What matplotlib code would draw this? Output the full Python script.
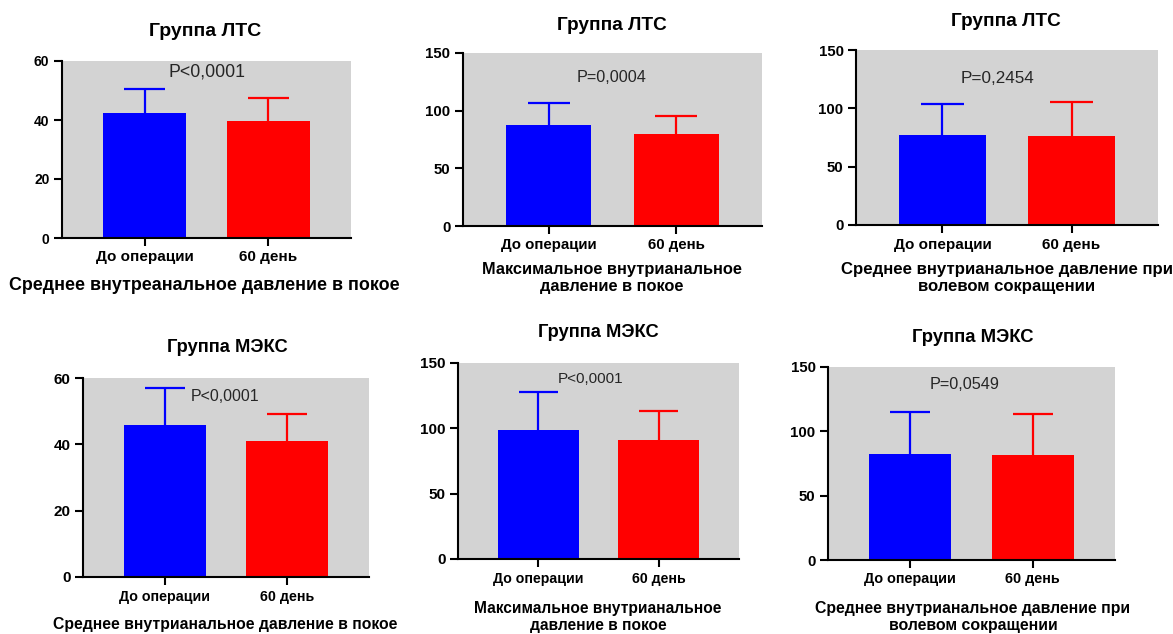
import matplotlib
matplotlib.use("Agg")
import matplotlib.pyplot as plt

plt.rcParams['font.family'] = ['Liberation Sans', 'DejaVu Sans']

# ---- data ----
categories = ["До операции", "60 день"]

groups = ["Группа ЛТС", "Группа ЛТС", "Группа ЛТС",
          "Группа МЭКС", "Группа МЭКС", "Группа МЭКС"]

measures = [
    "Среднее внутреанальное давление в покое",
    "Максимальное внутрианальное\nдавление в покое",
    "Среднее внутрианальное давление при\nволевом сокращении",
    "Среднее внутрианальное давление в покое",
    "Максимальное внутрианальное\nдавление в покое",
    "Среднее внутрианальное давление при\nволевом сокращении",
]

means_before = [42.3, 88.0, 76.9, 45.8, 98.4, 82.3]
means_after = [39.8, 79.4, 76.3, 41.0, 90.8, 81.5]
sd_before = [8.1, 18.7, 26.5, 11.2, 29.1, 32.4]
sd_after = [7.8, 16.1, 28.9, 8.1, 22.5, 32.1]

p_values = ["P<0,0001", "P=0,0004", "P=0,2454", "P<0,0001", "P<0,0001", "P=0,0549"]

y_max = [60, 150, 150, 60, 150, 150]
y_ticks = [[0, 20, 40, 60], [0, 50, 100, 150], [0, 50, 100, 150],
           [0, 20, 40, 60], [0, 50, 100, 150], [0, 50, 100, 150]]

# ---- layout (pixels on a 1173 x 634 canvas) ----
W, H = 1173, 634
# axes boxes: left, top, right, bottom
boxes = [(62, 61, 351, 238), (463, 53, 762, 226), (856, 50, 1158, 225),
         (83, 378, 369, 577), (458, 363, 739, 559), (828, 367, 1115, 560)]
title_pos = [(205, 31), (612, 25), (1006, 22), (227, 347), (598, 333), (973, 337)]
xlabel_pos = [(204, 285), (612, 278), (1007, 278), (225, 624), (598, 617), (973, 617)]
p_pos = [(0.50, 56.3), (0.49, 129.0), (0.43, 125.7), (0.49, 54.3), (0.43, 137.8), (0.44, 136.2)]

# font sizes per panel
fs_title = [14.0, 13.7, 13.7, 13.2, 13.2, 13.3]
fs_xlabel = [12.9, 11.8, 12.1, 11.3, 11.2, 11.4]
fs_xtick = [11.0, 10.8, 11.0, 10.3, 10.2, 10.4]
fs_ytick = [10.0, 10.8, 10.8, 11.0, 11.0, 10.8]
fs_p = [12.8, 11.7, 12.3, 11.5, 11.0, 11.7]

BLUE = "#0000ff"
RED = "#ff0000"
BG = "#d3d3d3"
BAR_W = 0.67
CAP_W = 0.33

fig = plt.figure(figsize=(W / 100, H / 100), dpi=100)

for i in range(6):
    l, t, r, b = boxes[i]
    ax = fig.add_axes([l / W, 1 - b / H, (r - l) / W, (b - t) / H])
    ax.set_facecolor(BG)
    x = [0, 1]
    vals = [means_before[i], means_after[i]]
    errs = [sd_before[i], sd_after[i]]
    colors = [BLUE, RED]
    ax.bar(x, vals, width=BAR_W, color=colors, zorder=2)
    # upper-only error bars (mean + SD) with a cap
    for xi, v, e, c in zip(x, vals, errs, colors):
        ax.vlines(xi, v, v + e, color=c, linewidth=1.6, zorder=1.5)
        ax.hlines(v + e, xi - CAP_W / 2, xi + CAP_W / 2, color=c,
                  linewidth=1.6, zorder=1.5)
    ax.set_xlim(-0.67, 1.67)
    ax.set_ylim(0, y_max[i])
    ax.set_yticks(y_ticks[i])
    ax.set_xticks(x)
    ax.set_xticklabels(categories, fontsize=fs_xtick[i], fontweight='bold')
    for lab in ax.get_yticklabels():
        lab.set_fontsize(fs_ytick[i])
        lab.set_fontweight('bold')
    for s in ["top", "right"]:
        ax.spines[s].set_visible(False)
    for s in ["left", "bottom"]:
        ax.spines[s].set_linewidth(1.5)
        ax.spines[s].set_color("black")
    ax.tick_params(axis='both', length=6, width=1.5, pad=3, color="black")
    ax.text(p_pos[i][0], p_pos[i][1], p_values[i], ha='center', va='center',
            fontsize=fs_p[i], color="#262626")
    tx, ty = title_pos[i]
    fig.text(tx / W, 1 - ty / H, groups[i], ha='center', va='center',
             fontsize=fs_title[i], fontweight='bold')
    lx, ly = xlabel_pos[i]
    fig.text(lx / W, 1 - ly / H, measures[i], ha='center', va='center',
             fontsize=fs_xlabel[i], fontweight='bold', linespacing=1.1)

fig.savefig("out.png", dpi=100, facecolor="white")
